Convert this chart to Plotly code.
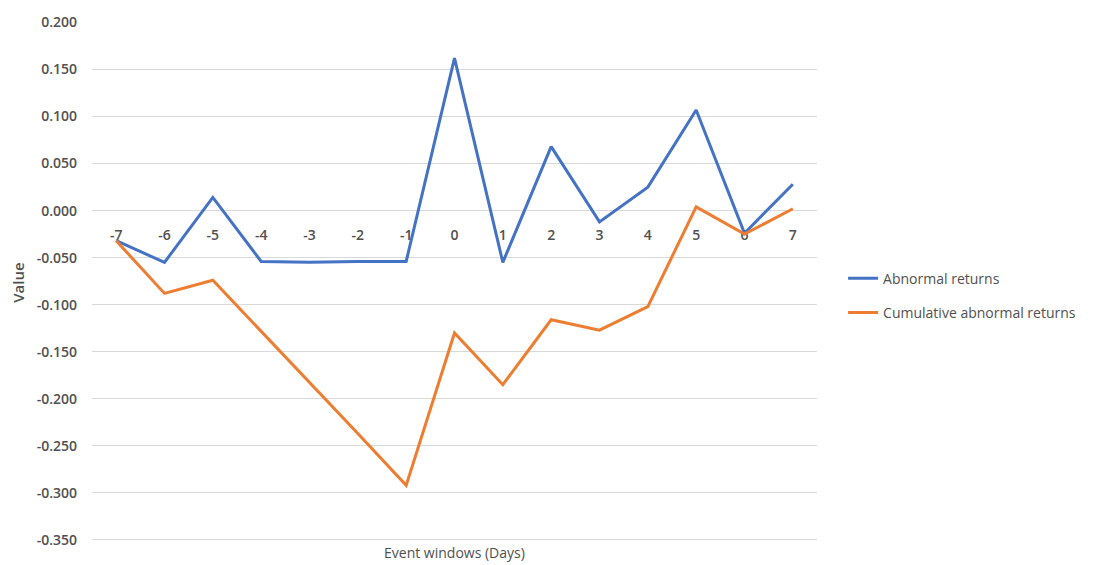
import plotly.graph_objects as go

days = ["-7", "-6", "-5", "-4", "-3", "-2", "-1", "0", "1", "2", "3", "4", "5", "6", "7"]
abnormal_returns = [-0.032, -0.055, 0.014, -0.054, -0.055, -0.054, -0.054, 0.162,
                    -0.055, 0.068, -0.012, 0.025, 0.107, -0.024, 0.028]
cumulative_abnormal_returns = [-0.032, -0.088, -0.074, -0.128, -0.183, -0.237, -0.292, -0.130,
                               -0.185, -0.116, -0.127, -0.102, 0.004, -0.025, 0.002]
y_ticks = [0.2, 0.15, 0.1, 0.05, 0.0, -0.05, -0.1, -0.15, -0.2, -0.25, -0.3, -0.35]

TXT = "#505050"
FONT = "Open Sans"

fig = go.Figure()
fig.add_trace(go.Scatter(x=days, y=abnormal_returns, mode="lines", name="Abnormal returns",
                         line=dict(color="#4472C4", width=3), legendgroup="a"))
fig.add_trace(go.Scatter(x=days, y=cumulative_abnormal_returns, mode="lines",
                         name="Cumulative abnormal returns",
                         line=dict(color="#ED7D31", width=3), legendgroup="b"))

ymin, ymax = -0.3533, 0.2005
fig.update_layout(
    width=1107, height=565,
    margin=dict(l=92, r=290, t=19, b=22),
    paper_bgcolor="white", plot_bgcolor="white",
    font=dict(family=FONT, size=14, color=TXT),
    showlegend=True,
    legend=dict(x=1.036, y=0.538, xanchor="left", yanchor="top",
                font=dict(family=FONT, size=14, color=TXT),
                tracegroupgap=13, bgcolor="rgba(0,0,0,0)"),
    xaxis=dict(type="category", range=[-0.5, 14.5], showgrid=False, zeroline=False,
               showline=False, ticks="", anchor="free",
               position=(0 - ymin) / (ymax - ymin),
               ticklabelstandoff=14, layer="below traces",
               tickfont=dict(family=FONT, size=14, color=TXT, weight=600)),
    yaxis=dict(range=[ymin, ymax], tickvals=y_ticks,
               ticktext=[f"{v:.3f}" for v in y_ticks],
               showgrid=True, gridcolor="#D9D9D9", gridwidth=1.3,
               zeroline=False, showline=False, ticks="", ticklabelstandoff=14,
               tickfont=dict(family=FONT, size=14, color=TXT, weight=600)),
    annotations=[
        dict(text="Event windows (Days)", x=0.5, y=-0.018, xref="paper", yref="paper",
             xanchor="center", yanchor="middle", showarrow=False,
             font=dict(family=FONT, size=14, color=TXT)),
        dict(text="Value", x=-0.103, y=0.5, xref="paper", yref="paper", textangle=-90,
             xanchor="center", yanchor="middle", showarrow=False,
             font=dict(family=FONT, size=15, color=TXT, weight=600)),
    ],
)

fig.write_html("out.html")
